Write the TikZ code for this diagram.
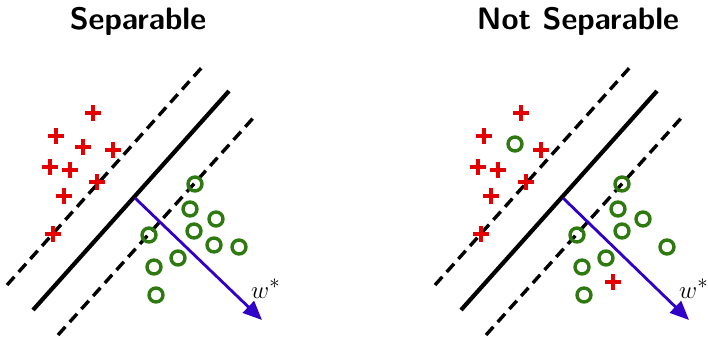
\documentclass[tikz,border=0pt]{standalone}
\usetikzlibrary{arrows.meta}
\definecolor{pred}{RGB}{226,0,0}
\definecolor{pgreen}{RGB}{46,122,16}
\definecolor{pblue}{RGB}{48,0,200}
\tikzset{
  sepline/.style={black,line width=4.2pt},
  marginline/.style={black,line width=3.4pt,dash pattern=on 11pt off 6.5pt},
  normalarrow/.style={pblue,line width=2.8pt,-{Triangle[length=19pt,width=16pt]}},
  circ/.style={circle,draw=pgreen,line width=3.4pt,minimum size=14pt,inner sep=0pt},
  ptitle/.style={font=\sffamily\bfseries\fontsize{31}{36}\selectfont,anchor=base},
  wlabel/.style={font=\fontsize{28}{32}\selectfont,anchor=base west,inner sep=0pt},
  plusm/.pic={\draw[pred,line width=3.6pt] (-8,0)--(8,0) (0,-8)--(0,8);}
}
\begin{document}
\begin{tikzpicture}[x=1pt,y=-1pt]
\useasboundingbox (0,0) rectangle (708,337);
% ---------- Left panel ----------
\node[ptitle] (t1) at (138,30) {Separable};
\coordinate (a1s) at (7,285);   \coordinate (a1e) at (204,65);
\coordinate (b1s) at (33,310);  \coordinate (b1e) at (229,91);
\coordinate (c1s) at (58,335);  \coordinate (c1e) at (255,116);
\draw[marginline] (a1s) -- (a1e);
\draw[sepline] (b1s) -- (b1e);
\draw[marginline] (c1s) -- (c1e);
\foreach \px/\py in {93/113,56/136,83/147,113/150,50/167,70/170,97/182,64/196,53/234}
  \pic at (\px,\py) {plusm};
\foreach \i/\px/\py in {1/195/184,2/190/209,3/216/219,4/194/231,5/149/235,6/214/245,7/239/247,8/178/258,9/154/267,10/156/295}
  \node[circ] (lc\i) at (\px,\py) {};
\coordinate (n1s) at (135,198);
\coordinate (n1e) at (262,320);
\draw[normalarrow] (n1s) -- (n1e);
\node[wlabel] (w1) at (251,298) {$w^{*}$};
% ---------- Right panel ----------
\node[ptitle] (t2) at (578,30) {Not Separable};
\coordinate (a2s) at (435,285);  \coordinate (a2e) at (632,65);
\coordinate (b2s) at (461,310);  \coordinate (b2e) at (657,91);
\coordinate (c2s) at (486,335);  \coordinate (c2e) at (683,116);
\draw[marginline] (a2s) -- (a2e);
\draw[sepline] (b2s) -- (b2e);
\draw[marginline] (c2s) -- (c2e);
\foreach \px/\py in {521/113,484/136,541/150,478/167,498/170,526/182,491/196,481/234,613/282}
  \pic at (\px,\py) {plusm};
\foreach \i/\px/\py in {1/622/184,2/618/209,3/643/219,4/622/231,5/577/235,6/515/144,7/667/247,8/606/258,9/582/267,10/584/295}
  \node[circ] (rc\i) at (\px,\py) {};
\coordinate (n2s) at (563,198);
\coordinate (n2e) at (689,320);
\draw[normalarrow] (n2s) -- (n2e);
\node[wlabel] (w2) at (679,298) {$w^{*}$};
\end{tikzpicture}
\end{document}
